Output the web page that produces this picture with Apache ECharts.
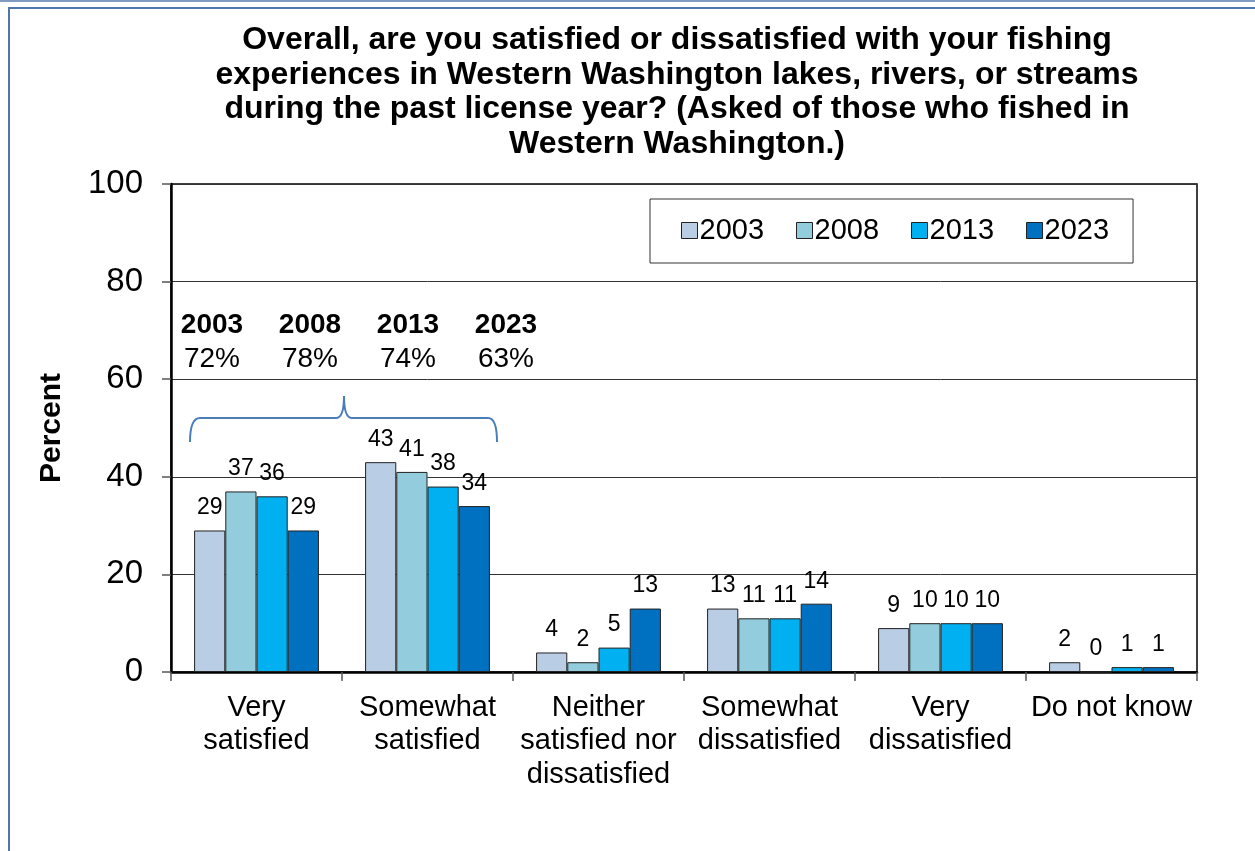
<!DOCTYPE html>
<html><head><meta charset="utf-8">
<script src="https://cdn.jsdelivr.net/npm/echarts@6/dist/echarts.min.js"></script>
<style>html,body{margin:0;padding:0;background:#fff}#c{width:1255px;height:851px}</style>
</head><body><div id="c"></div>
<script>
const categories = ["Very\nsatisfied", "Somewhat\nsatisfied", "Neither\nsatisfied nor\ndissatisfied", "Somewhat\ndissatisfied", "Very\ndissatisfied", "Do not know"];
const years = ["2003", "2008", "2013", "2023"];
const v2003 = [29, 43, 4, 13, 9, 2];
const v2008 = [37, 41, 2, 11, 10, 0];
const v2013 = [36, 38, 5, 11, 10, 1];
const v2023 = [29, 34, 13, 14, 10, 1];
const satisfiedTotals = ["72%", "78%", "74%", "63%"];
const yTicks = [0, 20, 40, 60, 80, 100];

const colors = ["#b9cde5", "#93cddd", "#00b0f0", "#0070c0"];
const values = [v2003, v2008, v2013, v2023];
const FONT = "Arial, 'Liberation Sans', sans-serif";

const chart = echarts.init(document.getElementById('c'), null, {renderer: 'canvas'});
const series = years.map((y, i) => ({
  name: y, type: 'bar', data: values[i],
  barGap: '0%', barCategoryGap: '27%',
  itemStyle: {color: colors[i], borderColor: '#222', borderWidth: 1},
  label: {show: true, position: 'top', distance: 11, fontSize: 23, color: '#000', fontFamily: FONT},
  emphasis: {disabled: true}
}));

const annot = [];
const annX = [212, 310, 408, 506];
years.forEach((y, i) => {
  annot.push({type: 'text', x: annX[i], y: 325, style: {text: y, font: 'bold 28px ' + FONT, fill: '#000', textAlign: 'center', textVerticalAlign: 'middle'}});
  annot.push({type: 'text', x: annX[i], y: 359, style: {text: satisfiedTotals[i], font: '28px ' + FONT, fill: '#000', textAlign: 'center', textVerticalAlign: 'middle'}});
});
const braceStyle = {fill: 'none', stroke: '#4a7ebb', lineWidth: 2};
const brace = [
  {type: 'bezierCurve', shape: {x1: 190, y1: 442, cpx1: 190, cpy1: 418, x2: 200, y2: 418}, style: braceStyle},
  {type: 'line', shape: {x1: 200, y1: 418, x2: 336, y2: 418}, style: braceStyle},
  {type: 'bezierCurve', shape: {x1: 336, y1: 418, cpx1: 344, cpy1: 418, x2: 344, y2: 396}, style: braceStyle},
  {type: 'bezierCurve', shape: {x1: 344, y1: 396, cpx1: 344, cpy1: 418, x2: 352, y2: 418}, style: braceStyle},
  {type: 'line', shape: {x1: 352, y1: 418, x2: 488, y2: 418}, style: braceStyle},
  {type: 'bezierCurve', shape: {x1: 488, y1: 418, cpx1: 497, cpy1: 418, x2: 497, y2: 442}, style: braceStyle}
];

chart.setOption({
  animation: false,
  textStyle: {fontFamily: FONT},
  title: {
    text: 'Overall, are you satisfied or dissatisfied with your fishing\nexperiences in Western Washington lakes, rivers, or streams\nduring the past license year? (Asked of those who fished in\nWestern Washington.)',
    left: 672, top: 18, textAlign: 'center',
    textStyle: {fontSize: 32, fontWeight: 'bold', color: '#000', lineHeight: 34.5, fontFamily: FONT}
  },
  legend: {
    data: years, left: 650, top: 199, padding: [17, 24, 18, 31], itemGap: 32,
    borderColor: '#333', borderWidth: 1,
    icon: 'rect', itemWidth: 16, itemHeight: 16,
    textStyle: {fontSize: 29, color: '#000', fontFamily: FONT, padding: [0, 0, 0, -3]},
    itemStyle: {borderColor: '#222', borderWidth: 1}
  },
  grid: {left: 171, right: 58, top: 184, bottom: 179, show: true, borderColor: '#000', borderWidth: 1.5, containLabel: false},
  xAxis: {
    type: 'category', data: categories,
    axisLine: {lineStyle: {color: '#000', width: 2.5}},
    axisTick: {show: true, interval: 0, length: 9, lineStyle: {color: '#555', width: 1.5}},
    axisLabel: {interval: 0, fontSize: 29, lineHeight: 33.5, color: '#000', margin: 19, fontFamily: FONT}
  },
  yAxis: {
    type: 'value', min: yTicks[0], max: yTicks[yTicks.length - 1], interval: 20,
    name: 'Percent', nameLocation: 'middle', nameGap: 104, nameRotate: 90,
    nameTextStyle: {fontSize: 30, fontWeight: 'bold', color: '#000', fontFamily: FONT},
    axisLine: {show: true, lineStyle: {color: '#000', width: 2.5}},
    axisTick: {show: true, length: 9, lineStyle: {color: '#555', width: 1.5}},
    axisLabel: {fontSize: 33, color: '#000', margin: 28, fontFamily: FONT},
    splitLine: {lineStyle: {color: '#333', width: 1}}
  },
  series: series,
  graphic: annot.concat(brace).concat([
    {type: 'line', shape: {x1: 0, y1: 1, x2: 1255, y2: 1}, style: {stroke: '#7f9cc0', lineWidth: 2}},
    {type: 'rect', shape: {x: 9, y: 8, width: 1300, height: 900}, style: {fill: 'none', stroke: '#4f76ad', lineWidth: 2}}
  ])
});
</script></body></html>
